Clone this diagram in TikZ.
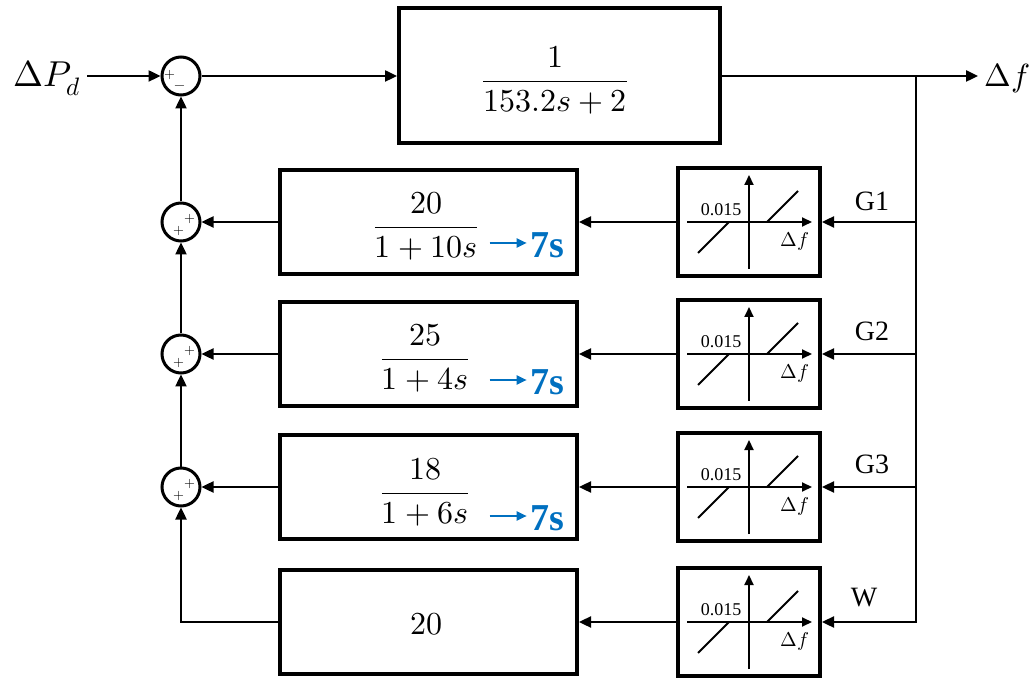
\documentclass[tikz,border=0pt]{standalone}
\usepackage{fontspec}
\usepackage{amsmath}
\usepackage{unicode-math}
\newfontfamily\tnr{Liberation Serif}
\usetikzlibrary{arrows.meta,calc}
\definecolor{myblue}{RGB}{0,112,192}
\tikzset{
  conn/.style={line width=1.2pt,-{Triangle[length=6pt,width=5.5pt]}},
  blk/.style={draw,line width=2pt,inner sep=0pt,minimum width=148.5pt,minimum height=52pt},
  dbbox/.style={draw,line width=2pt,inner sep=0pt,minimum width=71pt,minimum height=54pt},
  sumj/.style={draw,circle,line width=1.5pt,inner sep=0pt,minimum size=19pt},
  pm/.style={inner sep=0pt,font=\fontsize{7}{8}\selectfont},
  tf/.style={inner sep=0pt,font=\fontsize{16}{19}\selectfont},
  lbl/.style={inner sep=0pt,font=\tnr\fontsize{14}{16}\selectfont},
  seven/.style={inner sep=0pt,text=myblue,font=\tnr\bfseries\fontsize{19}{22}\selectfont},
  barrow/.style={draw=myblue,line width=1.1pt,-{Triangle[length=5pt,width=4.5pt]}},
}
\newcommand\dbgraph[1]{%
  \begin{scope}[shift={(#1.center)},line width=1pt]
    \draw[-{Triangle[length=5pt,width=4.5pt]}] (-62,0) -- (63,0);
    \draw[-{Triangle[length=5pt,width=4.5pt]}] (0,47) -- (0,-47);
    \draw (-51,31) -- (-20,0);
    \draw (18,0) -- (49,-31);
    \node[inner sep=0pt,font=\tnr\fontsize{9}{10}\selectfont] at (-28,-12) {0.015};
    \node[inner sep=0pt,font=\fontsize{10}{11}\selectfont] at (46,19) {$\Delta f$};
  \end{scope}}
\begin{document}
\begin{tikzpicture}[x=0.5pt,y=-0.5pt]
\useasboundingbox (0,0) rectangle (1033,678);
% nodes
\node[inner sep=3pt,font=\fontsize{18}{21}\selectfont] (dpd) at (47,78) {$\Delta P_d$};
\node[sumj] (s0) at (181,76) {};
\node[draw,line width=2pt,inner sep=0pt,minimum width=160.5pt,minimum height=67.5pt] (top) at (559.5,75.5) {};
\node[tf] (ftop) at (555,80) {$\dfrac{1}{153.2s+2}$};
\coordinate (out) at (978,76);
\node[inner sep=0pt,anchor=west,font=\fontsize{16}{19}\selectfont] (df) at (984,78) {$\Delta f$};
\coordinate (tap) at (916,76);

\node[blk] (g1) at (428.5,222) {};
\node[blk] (g2) at (428.5,354) {};
\node[blk] (g3) at (428.5,487) {};
\node[blk] (g4) at (428.5,622) {};

\node[dbbox] (db1) at (749,222) {};
\node[dbbox] (db2) at (749,354) {};
\node[dbbox] (db3) at (749,487) {};
\node[dbbox] (db4) at (749,622) {};
\dbgraph{db1}\dbgraph{db2}\dbgraph{db3}\dbgraph{db4}

\node[sumj] (s1) at (181,222) {};
\node[sumj] (s2) at (181,354) {};
\node[sumj] (s3) at (181,487) {};

% signs
\node[pm] at ($(s0)+(-11,-1)$) {$+$};
\node[pm] at ($(s0)+(-1,12)$) {$-$};
\foreach \s in {s1,s2,s3}{
  \node[pm] at ($(\s)+(9,-3)$) {$+$};
  \node[pm] at ($(\s)+(-2,9)$) {$+$};
}

% transfer functions
\node[tf] (f1) at (426,226) {$\dfrac{20}{1+10s}$};
\node[tf] (f2) at (425,358) {$\dfrac{25}{1+4s}$};
\node[tf] (f3) at (425,492) {$\dfrac{18}{1+6s}$};
\node[tf] (f4) at (426,624) {$20$};

\node[seven] (x1) at (547,245) {7s};
\node[seven] (x2) at (547,382) {7s};
\node[seven] (x3) at (547,518) {7s};
\draw[barrow] ($(x1.west)+(-40,-2)$) -- ($(x1.west)+(-3,-2)$);
\draw[barrow] ($(x2.west)+(-40,-2)$) -- ($(x2.west)+(-3,-2)$);
\draw[barrow] ($(x3.west)+(-40,-2)$) -- ($(x3.west)+(-3,-2)$);

% labels
\node[lbl] (l1) at (872,201) {G1};
\node[lbl] (l2) at (872,331) {G2};
\node[lbl] (l3) at (872,464) {G3};
\node[lbl] (l4) at (864,598) {W};

% connectors
\draw[conn] (dpd.east |- s0) -- (s0.west);
\draw[conn] (s0.east) -- (s0.east -| top.west);
\draw[conn] (top.east |- out) -- (out);
\draw[conn] (tap) |- (db4.east);
\draw[conn] (tap |- db1.east) -- (db1.east);
\draw[conn] (tap |- db2.east) -- (db2.east);
\draw[conn] (tap |- db3.east) -- (db3.east);
\draw[conn] (db1.west) -- (g1.east);
\draw[conn] (db2.west) -- (g2.east);
\draw[conn] (db3.west) -- (g3.east);
\draw[conn] (db4.west) -- (g4.east);
\draw[conn] (g1.west) -- (s1.east);
\draw[conn] (g2.west) -- (s2.east);
\draw[conn] (g3.west) -- (s3.east);
\draw[conn] (g4.west) -| (s3.south);
\draw[conn] (s3.north) -- (s2.south);
\draw[conn] (s2.north) -- (s1.south);
\draw[conn] (s1.north) -- (s0.south);
\end{tikzpicture}
\end{document}
